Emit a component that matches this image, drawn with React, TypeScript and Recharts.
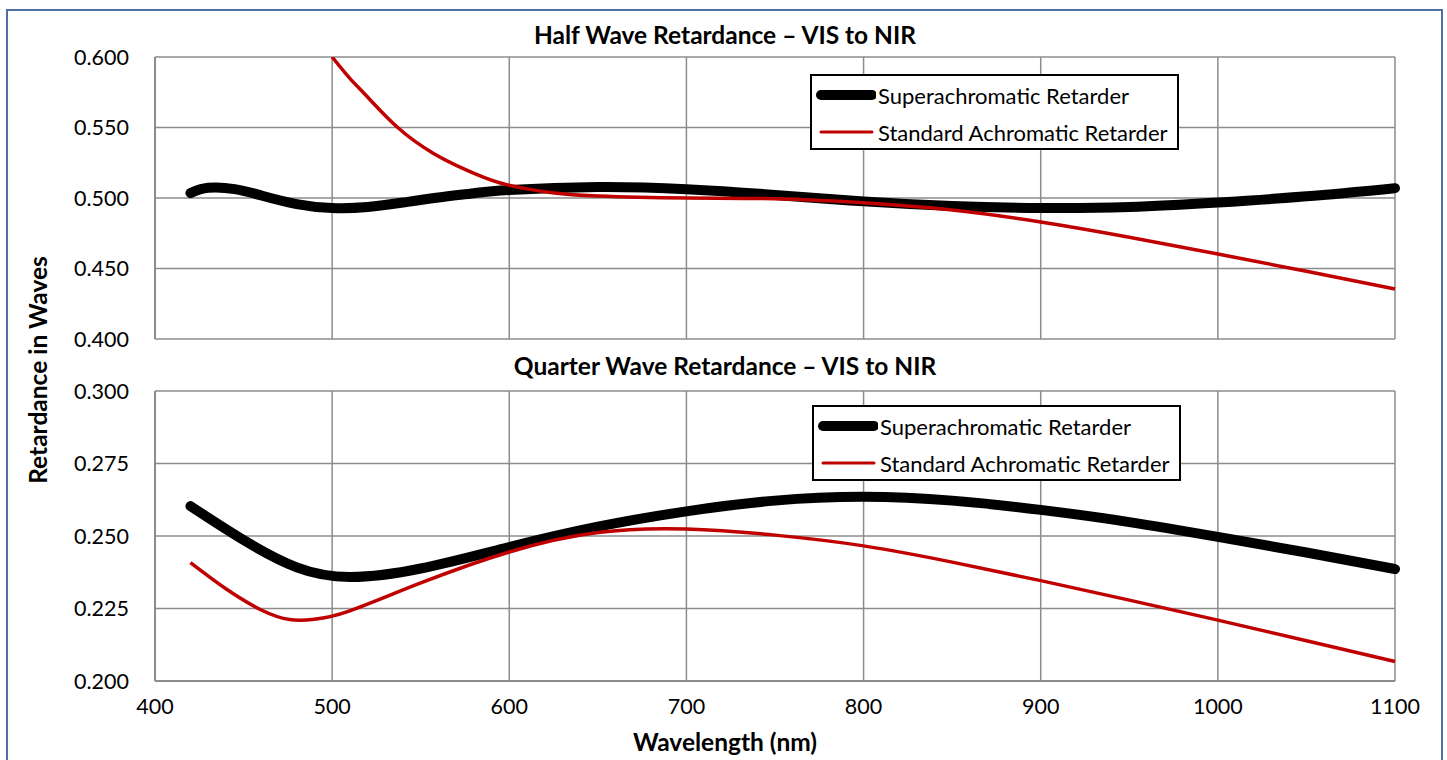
import React from "react";
import { LineChart, Line, XAxis, YAxis, CartesianGrid } from "recharts";

// wavelength (nm) samples for each curve
const halfSuperWl = [420, 430, 445, 460, 480, 500, 520, 540, 560, 580, 600, 650, 700, 750, 800, 850, 900, 950, 1000, 1050, 1100];
const halfSuperVal = [0.5035, 0.5072, 0.5063, 0.5018, 0.4957, 0.4929, 0.4936, 0.4968, 0.5004, 0.5034, 0.5057, 0.5078, 0.5062, 0.5022, 0.4976, 0.4943, 0.4929, 0.4936, 0.4968, 0.5012, 0.507];

const halfStdWl = [500, 510, 520, 537, 557, 575, 595, 620, 650, 700, 750, 800, 850, 900, 950, 1000, 1050, 1100];
const halfStdVal = [0.6, 0.5848, 0.5716, 0.55, 0.5318, 0.5203, 0.5106, 0.5045, 0.5014, 0.5, 0.4995, 0.4966, 0.4915, 0.483, 0.4722, 0.4603, 0.448, 0.4355];

const quarterSuperWl = [420, 450, 480, 510, 550, 600, 650, 700, 750, 800, 850, 900, 950, 1000, 1050, 1100];
const quarterSuperVal = [0.2603, 0.2486, 0.2392, 0.2359, 0.2388, 0.2462, 0.2532, 0.2585, 0.2622, 0.2635, 0.2622, 0.259, 0.2548, 0.2497, 0.2443, 0.2386];

const quarterStdWl = [420, 440, 460, 476, 490, 510, 550, 600, 650, 700, 750, 800, 850, 900, 950, 1000, 1050, 1100];
const quarterStdVal = [0.2408, 0.2318, 0.2245, 0.2212, 0.2213, 0.2242, 0.2338, 0.2445, 0.2512, 0.2524, 0.2503, 0.2466, 0.241, 0.2346, 0.2279, 0.221, 0.2139, 0.2067];

const xTicks = [400, 500, 600, 700, 800, 900, 1000, 1100];
const halfTicks = [0.4, 0.45, 0.5, 0.55, 0.6];
const quarterTicks = [0.2, 0.225, 0.25, 0.275, 0.3];

const seriesNames = ["Superachromatic Retarder", "Standard Achromatic Retarder"];

const toPoints = (wl: number[], val: number[]) => wl.map((w, i) => ({ wl: w, v: val[i] }));

const FONT = "Lato, 'Open Sans', sans-serif";
const GRID = "#8c8c8c";

function LegendBox({ left, top }: { left: number; top: number }) {
  return (
    <div
      style={{
        position: "absolute",
        left,
        top,
        border: "2px solid #000",
        background: "#fff",
        width: 369,
        height: 76,
        boxSizing: "border-box",
        padding: "3px 4px",
        fontFamily: FONT,
        fontSize: 22,
        color: "#000",
      }}
    >
      {seriesNames.map((n, i) => (
        <div key={n} style={{ display: "flex", alignItems: "center", height: 32, marginBottom: i === 0 ? 5 : 0 }}>
          <svg width={60} height={14} style={{ marginRight: 2, flex: "none" }}>
            <line
              x1={5}
              x2={56}
              y1={7}
              y2={7}
              stroke={i === 0 ? "#000" : "#c00000"}
              strokeWidth={i === 0 ? 10 : 3}
              strokeLinecap="round"
            />
          </svg>
          <span>{n}</span>
        </div>
      ))}
    </div>
  );
}

function Panel({
  top,
  bottom,
  domain,
  ticks,
  superData,
  stdData,
  showX,
}: {
  top: number;
  bottom: number;
  domain: [number, number];
  ticks: number[];
  superData: { wl: number; v: number }[];
  stdData: { wl: number; v: number }[];
  showX: boolean;
}) {
  const xHeight = showX ? 40 : 0;
  return (
    <div style={{ position: "absolute", left: 0, top: 0 }}>
      <LineChart
        width={1447}
        height={760}
        margin={{ top, left: 85, right: 52, bottom: 760 - bottom - xHeight }}
      >
        <CartesianGrid stroke={GRID} strokeWidth={1.5} />
        <XAxis
          dataKey="wl"
          type="number"
          domain={[400, 1100]}
          ticks={xTicks}
          allowDuplicatedCategory={false}
          height={xHeight}
          tick={showX ? { fill: "#000", fontSize: 21.5, fontFamily: FONT } : { fill: "none", fontSize: 1 }}
          tickLine={false}
          axisLine={{ stroke: GRID, strokeWidth: 2 }}
          tickMargin={12}
        />
        <YAxis
          type="number"
          domain={domain}
          ticks={ticks}
          width={70}
          tickFormatter={(v: number) => v.toFixed(3)}
          tick={{ fill: "#000", fontSize: 21.5, fontFamily: FONT }}
          tickLine={false}
          axisLine={{ stroke: GRID, strokeWidth: 2 }}
          tickMargin={20}
          allowDataOverflow
        />
        <Line
          data={superData}
          dataKey="v"
          name={seriesNames[0]}
          type="natural"
          stroke="#000"
          strokeWidth={10}
          strokeLinecap="round"
          dot={false}
          isAnimationActive={false}
        />
        <Line
          data={stdData}
          dataKey="v"
          name={seriesNames[1]}
          type="natural"
          stroke="#c00000"
          strokeWidth={3.5}
          dot={false}
          isAnimationActive={false}
        />
      </LineChart>
    </div>
  );
}

export default function App() {
  const textBase: React.CSSProperties = {
    position: "absolute",
    fontFamily: FONT,
    fontWeight: 700,
    fontSize: 24.5,
    lineHeight: "28px",
    color: "#000",
    whiteSpace: "nowrap",
  };
  return (
    <div style={{ position: "absolute", left: 0, top: 0, width: 1447, height: 760, background: "#fff", overflow: "hidden" }}>
      <div
        style={{
          position: "absolute",
          left: 6,
          top: 9,
          width: 1437,
          height: 770,
          border: "2px solid #4f6fa8",
          boxSizing: "border-box",
        }}
      />
      <Panel
        top={57}
        bottom={339}
        domain={[0.4, 0.6]}
        ticks={halfTicks}
        superData={toPoints(halfSuperWl, halfSuperVal)}
        stdData={toPoints(halfStdWl, halfStdVal)}
        showX={false}
      />
      <Panel
        top={391}
        bottom={681}
        domain={[0.2, 0.3]}
        ticks={quarterTicks}
        superData={toPoints(quarterSuperWl, quarterSuperVal)}
        stdData={toPoints(quarterStdWl, quarterStdVal)}
        showX={true}
      />
      <LegendBox left={810} top={74} />
      <LegendBox left={812} top={405} />
      <div style={{ ...textBase, left: 0, width: 1450, top: 21, textAlign: "center" }}>
        Half Wave Retardance – VIS to NIR
      </div>
      <div style={{ ...textBase, left: 0, width: 1450, top: 352, textAlign: "center" }}>
        Quarter Wave Retardance – VIS to NIR
      </div>
      <div style={{ ...textBase, left: 0, width: 1450, top: 728, textAlign: "center" }}>
        Wavelength (nm)
      </div>
      <div
        style={{
          ...textBase,
          left: 38,
          top: 370,
          transform: "translate(-50%, -50%) rotate(-90deg)",
        }}
      >
        Retardance in Waves
      </div>
    </div>
  );
}
